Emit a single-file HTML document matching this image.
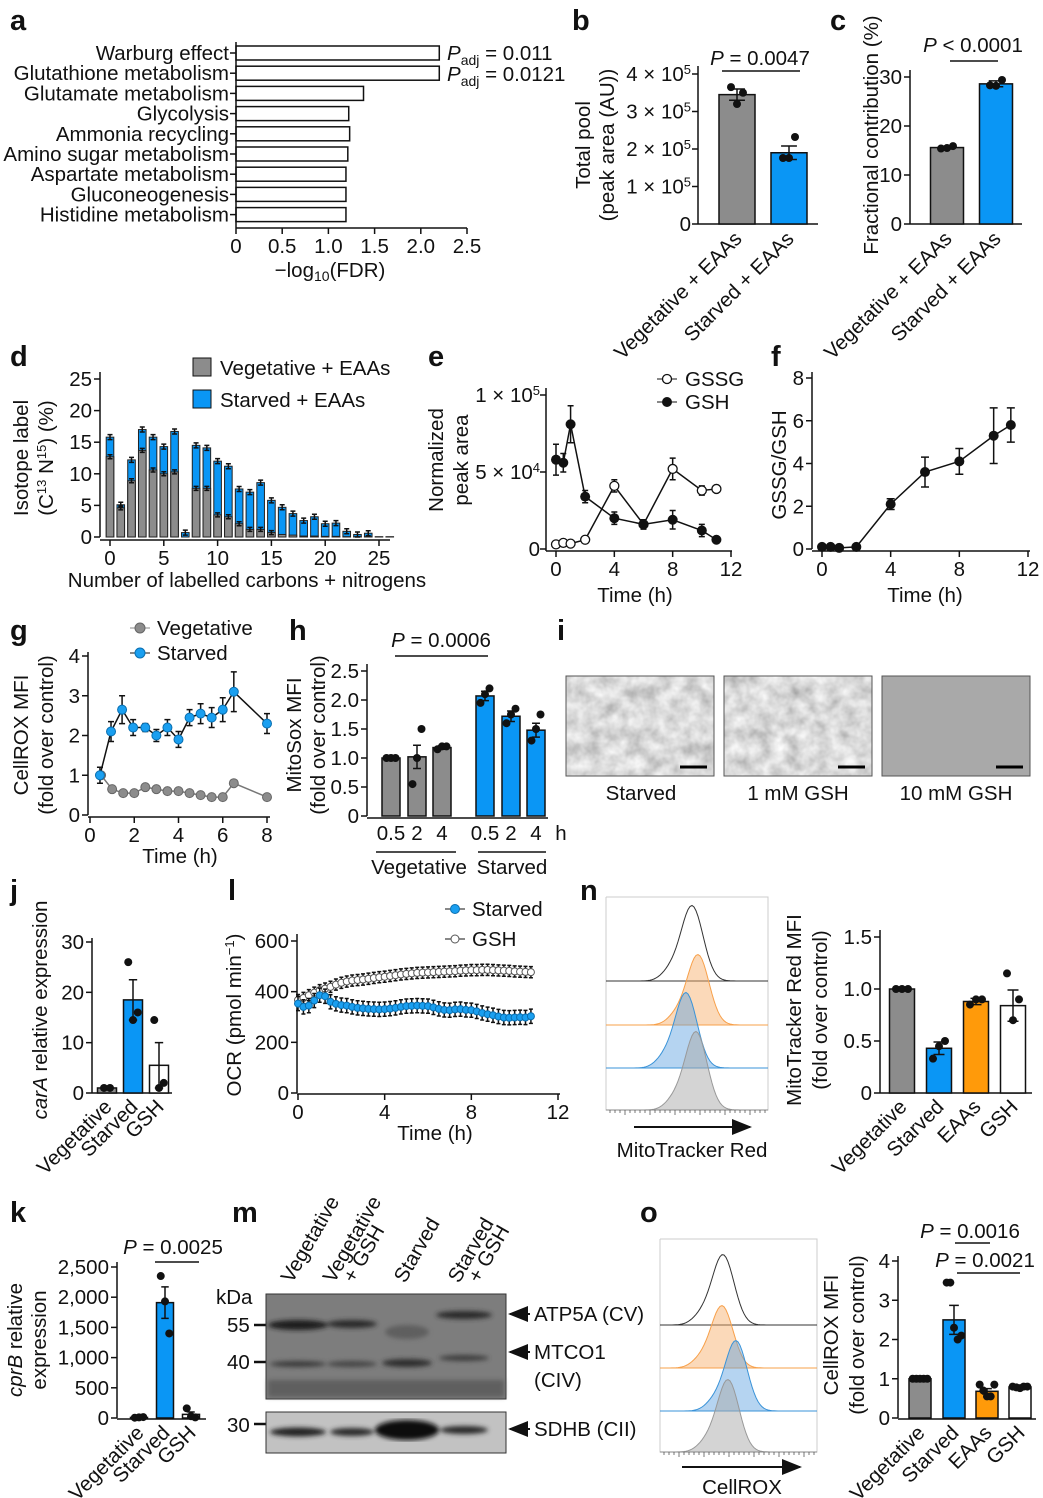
<!DOCTYPE html>
<html><head><meta charset="utf-8"><style>
html,body{margin:0;padding:0;background:#fff}
svg{display:block;font-family:"Liberation Sans",Arial,sans-serif}
text{fill:#111}
.pl{font-size:29px;font-weight:bold}
.t{font-size:20.5px}
</style></head><body>
<svg id="fig" width="1043" height="1498" viewBox="0 0 1043 1498" xmlns="http://www.w3.org/2000/svg">
<defs>
<filter id="noise" x="0" y="0" width="1" height="1"><feTurbulence type="fractalNoise" baseFrequency="0.07" numOctaves="3" seed="4"/><feColorMatrix type="saturate" values="0"/><feComponentTransfer><feFuncR type="linear" slope="0.9" intercept="0.25"/><feFuncG type="linear" slope="0.9" intercept="0.25"/><feFuncB type="linear" slope="0.9" intercept="0.25"/><feFuncA type="linear" slope="0" intercept="1"/></feComponentTransfer></filter>
<filter id="blur1"><feGaussianBlur stdDeviation="2.5"/></filter>
<marker id="arr" markerWidth="10" markerHeight="10" refX="9" refY="5" orient="auto"><path d="M0,1 L10,5 L0,9 z" fill="#111"/></marker>
</defs>
<text class="pl" x="10" y="30">a</text>
<text class="pl" x="572" y="30">b</text>
<text class="pl" x="830" y="30">c</text>
<text class="pl" x="10" y="366">d</text>
<text class="pl" x="428" y="366">e</text>
<text class="pl" x="771" y="366">f</text>
<text class="pl" x="10" y="640">g</text>
<text class="pl" x="289" y="640">h</text>
<text class="pl" x="557" y="640">i</text>
<text class="pl" x="10" y="900">j</text>
<text class="pl" x="228" y="900">l</text>
<text class="pl" x="580" y="900">n</text>
<text class="pl" x="10" y="1222">k</text>
<text class="pl" x="232" y="1222">m</text>
<text class="pl" x="640" y="1222">o</text>

<text class="t" x="330" y="277" text-anchor="middle">−log<tspan font-size="14" dy="4">10</tspan><tspan dy="-4">(FDR)</tspan></text>
<text class="t" x="447" y="60"><tspan font-style="italic">P</tspan><tspan font-size="14" dy="5">adj</tspan><tspan dy="-5"> = 0.011</tspan></text>
<text class="t" x="447" y="81"><tspan font-style="italic">P</tspan><tspan font-size="14" dy="5">adj</tspan><tspan dy="-5"> = 0.0121</tspan></text>

<text class="t" transform="translate(590,145) rotate(-90)" text-anchor="middle">Total pool</text>
<text class="t" transform="translate(614,145) rotate(-90)" text-anchor="middle">(peak area (AU))</text>
<text class="t" x="760" y="65" text-anchor="middle"><tspan font-style="italic">P</tspan> = 0.0047</text>
<line x1="722" y1="71" x2="800" y2="71" stroke="#111" stroke-width="1.5"/>

<text class="t" transform="translate(878,135) rotate(-90)" text-anchor="middle">Fractional contribution (%)</text>
<text class="t" x="973" y="52" text-anchor="middle"><tspan font-style="italic">P</tspan> &lt; 0.0001</text>
<line x1="950" y1="61" x2="998" y2="61" stroke="#111" stroke-width="1.5"/>

<text class="t" transform="translate(28,458) rotate(-90)" text-anchor="middle">Isotope label</text>
<text class="t" transform="translate(53,458) rotate(-90)" text-anchor="middle">(C<tspan font-size="13" dy="-7">13</tspan><tspan dy="7"> N</tspan><tspan font-size="13" dy="-7">15</tspan><tspan dy="7">) (%)</tspan></text>
<text class="t" x="247" y="587" text-anchor="middle">Number of labelled carbons + nitrogens</text>
<rect x="193" y="358" width="18" height="18" fill="#8c8c8c" stroke="#111"/>
<text class="t" x="220" y="375">Vegetative + EAAs</text>
<rect x="193" y="390" width="18" height="18" fill="#0a96f5" stroke="#111"/>
<text class="t" x="220" y="407">Starved + EAAs</text>

<text class="t" transform="translate(443,460) rotate(-90)" text-anchor="middle">Normalized</text>
<text class="t" transform="translate(468,460) rotate(-90)" text-anchor="middle">peak area</text>
<text class="t" x="635" y="602" text-anchor="middle">Time (h)</text>
<line x1="657" y1="379" x2="677" y2="379" stroke="#111"/>
<circle cx="667" cy="379" r="4.5" fill="#fff" stroke="#111" stroke-width="1.3"/>
<text class="t" x="685" y="386">GSSG</text>
<line x1="657" y1="402" x2="677" y2="402" stroke="#111"/>
<circle cx="667" cy="402" r="5" fill="#111"/>
<text class="t" x="685" y="409">GSH</text>

<text class="t" transform="translate(786,465) rotate(-90)" text-anchor="middle">GSSG/GSH</text>
<text class="t" x="925" y="602" text-anchor="middle">Time (h)</text>

<text class="t" transform="translate(28,735) rotate(-90)" text-anchor="middle">CellROX MFI</text>
<text class="t" transform="translate(53,735) rotate(-90)" text-anchor="middle">(fold over control)</text>
<text class="t" x="180" y="863" text-anchor="middle">Time (h)</text>
<line x1="130" y1="628" x2="150" y2="628" stroke="#888"/>
<circle cx="140" cy="628" r="5" fill="#8c8c8c" stroke="#666"/>
<text class="t" x="157" y="635">Vegetative</text>
<line x1="130" y1="653" x2="150" y2="653" stroke="#111"/>
<circle cx="140" cy="653" r="5" fill="#1a9ff0" stroke="#0a6fb0"/>
<text class="t" x="157" y="660">Starved</text>

<text class="t" transform="translate(301,735) rotate(-90)" text-anchor="middle">MitoSox MFI</text>
<text class="t" transform="translate(325,735) rotate(-90)" text-anchor="middle">(fold over control)</text>
<text class="t" x="441" y="647" text-anchor="middle"><tspan font-style="italic">P</tspan> = 0.0006</text>
<line x1="395" y1="656" x2="488" y2="656" stroke="#111" stroke-width="1.5"/>
<text class="t" x="561" y="840" text-anchor="middle">h</text>
<line x1="376" y1="852" x2="456" y2="852" stroke="#111" stroke-width="1.5"/>
<line x1="478" y1="852" x2="546" y2="852" stroke="#111" stroke-width="1.5"/>
<text class="t" x="419" y="874" text-anchor="middle">Vegetative</text>
<text class="t" x="512" y="874" text-anchor="middle">Starved</text>

<rect x="566" y="676" width="148" height="100" fill="#bbb" filter="url(#noise)"/>
<rect x="566" y="676" width="148" height="100" fill="none" stroke="#555"/>
<rect x="724" y="676" width="148" height="100" fill="#bbb" filter="url(#noise)"/>
<rect x="724" y="676" width="148" height="100" fill="none" stroke="#555"/>
<rect x="882" y="676" width="148" height="100" fill="#a9a9a9" stroke="#555"/>
<line x1="680" y1="767" x2="707" y2="767" stroke="#000" stroke-width="3"/>
<line x1="838" y1="767" x2="865" y2="767" stroke="#000" stroke-width="3"/>
<line x1="996" y1="767" x2="1023" y2="767" stroke="#000" stroke-width="3"/>
<text class="t" x="641" y="800" text-anchor="middle">Starved</text>
<text class="t" x="798" y="800" text-anchor="middle">1 mM GSH</text>
<text class="t" x="956" y="800" text-anchor="middle">10 mM GSH</text>

<text class="t" transform="translate(47,1010) rotate(-90)" text-anchor="middle"><tspan font-style="italic">carA</tspan> relative expression</text>
<text class="t" transform="translate(241,1015) rotate(-90)" text-anchor="middle">OCR (pmol min<tspan font-size="13" dy="-7">−1</tspan><tspan dy="7">)</tspan></text>
<text class="t" x="435" y="1140" text-anchor="middle">Time (h)</text>
<line x1="445" y1="909" x2="465" y2="909" stroke="#111"/>
<circle cx="455" cy="909" r="4.5" fill="#1a9ff0" stroke="#0a6fb0"/>
<text class="t" x="472" y="916">Starved</text>
<line x1="445" y1="939" x2="465" y2="939" stroke="#111"/>
<circle cx="455" cy="939" r="4" fill="#fff" stroke="#555"/>
<text class="t" x="472" y="946">GSH</text>

<text class="t" x="692" y="1157" text-anchor="middle">MitoTracker Red</text>
<line x1="634" y1="1127" x2="750" y2="1127" stroke="#111" stroke-width="2" marker-end="url(#arr)"/>
<text class="t" transform="translate(801,1010) rotate(-90)" text-anchor="middle">MitoTracker Red MFI</text>
<text class="t" transform="translate(827,1010) rotate(-90)" text-anchor="middle">(fold over control)</text>

<text class="t" transform="translate(22,1340) rotate(-90)" text-anchor="middle"><tspan font-style="italic">cprB</tspan> relative</text>
<text class="t" transform="translate(46,1340) rotate(-90)" text-anchor="middle">expression</text>
<text class="t" x="173" y="1254" text-anchor="middle"><tspan font-style="italic">P</tspan> = 0.0025</text>
<line x1="155" y1="1262" x2="199" y2="1262" stroke="#111" stroke-width="1.5"/>

<g>
<text class="t" transform="translate(292,1284) rotate(-60)">Vegetative</text>
<text class="t" transform="translate(334,1284) rotate(-60)">Vegetative</text>
<text class="t" transform="translate(354,1284) rotate(-60)">+ GSH</text>
<text class="t" transform="translate(405,1284) rotate(-60)">Starved</text>
<text class="t" transform="translate(459,1284) rotate(-60)">Starved</text>
<text class="t" transform="translate(479,1284) rotate(-60)">+ GSH</text>
<text class="t" x="216" y="1304">kDa</text>
<text class="t" x="227" y="1332">55</text>
<text class="t" x="227" y="1369">40</text>
<text class="t" x="227" y="1432">30</text>
<line x1="254" y1="1325" x2="266" y2="1325" stroke="#111" stroke-width="2.5"/>
<line x1="254" y1="1362" x2="266" y2="1362" stroke="#111" stroke-width="2.5"/>
<line x1="254" y1="1424" x2="266" y2="1424" stroke="#111" stroke-width="2.5"/>
<rect x="266" y="1294" width="240" height="105" fill="#7d7d7d" stroke="#333"/>
<g filter="url(#blur1)">
<ellipse cx="298" cy="1325" rx="30" ry="5" fill="#1e1e1e"/>
<ellipse cx="352" cy="1324" rx="25" ry="4" fill="#2a2a2a"/>
<ellipse cx="464" cy="1315" rx="28" ry="4" fill="#2a2a2a"/>
<ellipse cx="407" cy="1332" rx="22" ry="7" fill="#5e5e5e"/>
<ellipse cx="298" cy="1364" rx="28" ry="3" fill="#3a3a3a"/>
<ellipse cx="352" cy="1364" rx="25" ry="3" fill="#454545"/>
<ellipse cx="407" cy="1363" rx="25" ry="4" fill="#2e2e2e"/>
<ellipse cx="464" cy="1358" rx="25" ry="3" fill="#3e3e3e"/>
<rect x="268" y="1380" width="236" height="17" fill="#5e5e5e"/>
</g>
<rect x="266" y="1412" width="240" height="41" fill="#c2c2c2" stroke="#333"/>
<g filter="url(#blur1)">
<ellipse cx="298" cy="1432" rx="28" ry="4.5" fill="#222"/>
<ellipse cx="352" cy="1432" rx="22" ry="4" fill="#2a2a2a"/>
<ellipse cx="407" cy="1430" rx="32" ry="10" fill="#111"/>
<ellipse cx="464" cy="1430" rx="24" ry="4" fill="#2a2a2a"/>
</g>
<line x1="530" y1="1314" x2="510" y2="1314" stroke="#111" stroke-width="2" marker-end="url(#arr)"/>
<text class="t" x="534" y="1321">ATP5A (CV)</text>
<line x1="530" y1="1352" x2="510" y2="1352" stroke="#111" stroke-width="2" marker-end="url(#arr)"/>
<text class="t" x="534" y="1359">MTCO1</text>
<text class="t" x="534" y="1387">(CIV)</text>
<line x1="530" y1="1429" x2="510" y2="1429" stroke="#111" stroke-width="2" marker-end="url(#arr)"/>
<text class="t" x="534" y="1436">SDHB (CII)</text>
</g>

<text class="t" x="742" y="1494" text-anchor="middle">CellROX</text>
<line x1="682" y1="1467" x2="800" y2="1467" stroke="#111" stroke-width="2" marker-end="url(#arr)"/>
<text class="t" transform="translate(838,1335) rotate(-90)" text-anchor="middle">CellROX MFI</text>
<text class="t" transform="translate(864,1335) rotate(-90)" text-anchor="middle">(fold over control)</text>
<text class="t" x="970" y="1238" text-anchor="middle"><tspan font-style="italic">P</tspan> = 0.0016</text>
<line x1="955" y1="1243" x2="990" y2="1243" stroke="#111" stroke-width="1.5"/>
<text class="t" x="985" y="1267" text-anchor="middle"><tspan font-style="italic">P</tspan> = 0.0021</text>
<line x1="957" y1="1273" x2="1020" y2="1273" stroke="#111" stroke-width="1.5"/>
</svg>
<script>
const aCategories=["Warburg effect","Glutathione metabolism","Glutamate metabolism","Glycolysis","Ammonia recycling","Amino sugar metabolism","Aspartate metabolism","Gluconeogenesis","Histidine metabolism"];
const aValues=[2.2,2.2,1.38,1.22,1.23,1.21,1.19,1.19,1.19];
const aTicks=[0,0.5,1.0,1.5,2.0,2.5];
const aTickLabels=["0","0.5","1.0","1.5","2.0","2.5"];

const bGroups=["Vegetative + EAAs","Starved + EAAs"];
const bMeans=[3.45,1.9];
const bErr=[0.15,0.18];
const bReps=[[3.65,3.2,3.5],[1.76,1.76,2.32]];
const bTicks=[0,1,2,3,4];

const cMeans=[15.6,28.6];
const cErr=[0.3,0.6];
const cReps=[[15.4,15.5,15.9],[28.3,28.2,29.4]];
const cTicks=[0,10,20,30];

const dCarbons=[0,1,2,3,4,5,6,7,8,9,10,11,12,13,14,15,16,17,18,19,20,21,22,23,24,25,26];
const dVeg=[12.7,4.6,8.9,13.7,10.6,10.0,10.3,0,7.7,7.7,3.5,3.2,2.1,1.2,1.2,0.7,0.4,0.3,0.15,0.15,0.1,0.1,0.05,0.05,0.05,0,0];
const dStarvedTotal=[15.8,5.1,12.2,17.0,15.8,14.3,16.7,0.7,14.5,14.1,12.0,11.2,7.6,7.1,8.6,5.8,4.7,3.7,2.6,3.2,2.1,2.2,0.9,0.4,0.6,0.05,0.05];
const dTicksY=[0,5,10,15,20,25];
const dTicksX=[0,5,10,15,20,25];

const eTime=[0,0.5,1,2,4,6,8,10,11];
const eGSH=[58,56,81,34,20,16,19,12,6];
const eGSHerr=[10,6,12,4,4,3,6,4,1];
const eGSSG=[3,4,3.5,6,41,16,52,38,39];
const eGSSGerr=[1,1,1,1,4,3,7,3,2];

const fTime=[0,0.5,1,2,4,6,8,10,11];
const fRatio=[0.1,0.1,0.05,0.1,2.1,3.6,4.1,5.3,5.8];
const fErr=[0.05,0.05,0.05,0.05,0.25,0.7,0.6,1.3,0.8];
const fTicksY=[0,2,4,6,8];
const fTicksX=[0,4,8,12];

const gTimeS=[0.45,0.95,1.45,1.95,2.5,3.0,3.5,4.0,4.5,5.0,5.5,6.0,6.5,8];
const gStarved=[1.0,2.1,2.65,2.2,2.2,2.0,2.2,1.9,2.45,2.55,2.45,2.65,3.1,2.3];
const gStarvedErr=[0.2,0.25,0.35,0.2,0.1,0.15,0.2,0.2,0.2,0.25,0.25,0.3,0.5,0.25];
const gTimeV=[0.5,1,1.5,2,2.5,3,3.5,4,4.5,5,5.5,6,6.5,8];
const gVeg=[1.0,0.65,0.55,0.55,0.7,0.65,0.6,0.6,0.55,0.5,0.45,0.45,0.8,0.45];
const gTicksY=[0,1,2,3,4];
const gTicksX=[0,2,4,6,8];

const hLabels=["0.5","2","4","0.5","2","4"];
const hMeans=[1.0,1.02,1.18,2.07,1.72,1.48];
const hErr=[0.02,0.2,0.03,0.08,0.09,0.12];
const hReps=[[1,1,1],[0.55,1.0,1.5],[1.15,1.2,1.2],[1.95,2.1,2.2],[1.6,1.75,1.85],[1.3,1.5,1.75]];
const hTicks=[0,0.5,1.0,1.5,2.0,2.5];

const jGroups=["Vegetative","Starved","GSH"];
const jMeans=[1,18.5,5.5];
const jErr=[0,4,4.5];
const jReps=[[1,1],[26,14.5,16],[14.5,1,2]];
const jTicks=[0,10,20,30];

const lTime=[0,0.25,0.5,0.75,1,1.25,1.5,1.75,2,2.25,2.5,2.75,3,3.25,3.5,3.75,4,4.25,4.5,4.75,5,5.25,5.5,5.75,6,6.25,6.5,6.75,7,7.25,7.5,7.75,8,8.25,8.5,8.75,9,9.25,9.5,9.75,10,10.25,10.5,10.75];
const lStarved=[353,340,345,365,386,382,360,352,347,345,340,336,334,332,331,330,331,333,336,340,343,344,345,344,343,338,332,328,327,330,331,328,327,322,316,311,307,302,298,297,298,299,298,303];
const lGSH=[367,375,386,396,406,412,419,428,435,440,444,446,448,451,454,457,459,462,465,468,470,472,474,475,476,477,478,479,480,481,483,484,485,485,486,486,485,484,483,482,480,479,478,477];
const lTicksY=[0,200,400,600];
const lTicksX=[0,4,8,12];

const nGroups=["Vegetative","Starved","EAAs","GSH"];
const nMeans=[1.0,0.43,0.88,0.84];
const nErr=[0.005,0.06,0.03,0.15];
const nReps=[[1,1,1],[0.33,0.45,0.5],[0.85,0.9,0.9],[1.15,0.7,0.9]];
const nTicks=[0,0.5,1.0,1.5];
const nPeaks=[692,698,686,696];
const nPeakHeights=[75,70,75,78];

const kGroups=["Vegetative","Starved","GSH"];
const kMeans=[10,1910,60];
const kErr=[3,260,40];
const kReps=[[5,10,15],[2350,1930,1400],[160,30,10]];
const kTicks=[0,500,1000,1500,2000,2500];
const kTickLabels=["0","500","1,000","1,500","2,000","2,500"];

const oGroups=["Vegetative","Starved","EAAs","GSH"];
const oMeans=[1.0,2.5,0.68,0.79];
const oErr=[0.01,0.37,0.07,0.02];
const oReps=[[1,1,1,1,1],[3.45,3.45,2.3,2.0,2.1],[0.85,0.7,0.55,0.55,0.85],[0.8,0.78,0.76,0.8,0.8]];
const oTicks=[0,1,2,3,4];
const oPeaks=[723,722,736,728];
const oPeakHeights=[70,62,70,72];

const FS=20.5;
const SVGNS="http://www.w3.org/2000/svg";
const svg=document.getElementById('fig');
function el(tag,attrs,parent){const e=document.createElementNS(SVGNS,tag);for(const k in attrs)e.setAttribute(k,attrs[k]);(parent||svg).appendChild(e);return e;}
function lin(d0,d1,r0,r1){return v=>r0+(v-d0)*(r1-r0)/(d1-d0);}
function txt(x,y,s,anchor,parent,size){const t=el('text',{x:x,y:y,'text-anchor':anchor||'start','font-size':size||FS},parent);t.textContent=s;return t;}
function yAxis(p,x,ys,ticks,labels,top){
  const ax=el('line',{x1:x,y1:ys(ticks[0]),x2:x,y2:top!==undefined?top:ys(ticks[ticks.length-1]),stroke:'#111','stroke-width':1.5});
  
  
  ticks.forEach((v,i)=>{
    const tk=el('line',{x1:x-6,y1:ys(v),x2:x,y2:ys(v),stroke:'#111','stroke-width':1.5});
    
    
    const lb=txt(x-8,ys(v)+7,labels?labels[i]:String(v),'end');
    
    
  });
}
function xAxis(p,y,xs,ticks,labels,x0,x1){
  const ax=el('line',{x1:x0,y1:y,x2:x1,y2:y,stroke:'#111','stroke-width':1.5});
  
  
  ticks.forEach((v,i)=>{
    const tk=el('line',{x1:xs(v),y1:y,x2:xs(v),y2:y+6,stroke:'#111','stroke-width':1.5});
    
    
    const lb=txt(xs(v),y+25,labels?labels[i]:String(v),'middle');
    
    
  });
}
function errBar(p,x,yTop,yBot,w){
  const e=el('path',{d:`M${x},${yTop}V${yBot}M${x-w},${yTop}H${x+w}M${x-w},${yBot}H${x+w}`,stroke:'#111','stroke-width':1.5,fill:'none'});
  
  
}
function barChart(p,centers,width,ys,means,errs,reps,colors,labels,labelY,rot){
  means.forEach((m,i)=>{
    const r=el('rect',{x:centers[i]-width/2,y:ys(m),width:width,height:ys(0)-ys(m),fill:colors[i],stroke:'#111','stroke-width':1.5});
    
    
    errBar(p,centers[i],ys(m+errs[i]),ys(m-errs[i]),width*0.22);
    const rs=reps[i];
    rs.forEach((v,j)=>{
      const off=rs.length>1?(j-(rs.length-1)/2)*Math.min(6,width/(rs.length+1)):0;
      const d=el('circle',{cx:centers[i]+off,cy:ys(v),r:4,fill:'#111'});
      
      
    });
    if(labels){
      const t=el('text',{transform:`translate(${centers[i]+6},${labelY}) rotate(${rot||-45})`,'text-anchor':'end','font-size':FS});
      t.textContent=labels[i];
      
      
    }
  });
}

(function(){
  const xs=lin(0,2.5,236,467);
  const rowY=i=>53+i*20.2;
  aCategories.forEach((c,i)=>{
    const r=el('rect',{x:236,y:rowY(i)-7,width:xs(aValues[i])-236,height:14,fill:'#fff',stroke:'#111','stroke-width':1.5});
    
    
    const tk=el('line',{x1:230,y1:rowY(i),x2:236,y2:rowY(i),stroke:'#111','stroke-width':1.5});
    
    
    const t=txt(229,rowY(i)+7,c,'end');
    
    
  });
  const ya=el('line',{x1:236,y1:42,x2:236,y2:228,stroke:'#111','stroke-width':1.5});
  
  
  xAxis('a',228,xs,aTicks,aTickLabels,236,467);
})();

(function(){
  const ys=lin(0,4,224,74);
  const ax=el('line',{x1:698,y1:224,x2:698,y2:66,stroke:'#111','stroke-width':1.5});
  
  
  bTicks.forEach(v=>{
    const tk=el('line',{x1:692,y1:ys(v),x2:698,y2:ys(v),stroke:'#111','stroke-width':1.5});
    
    
    const t=el('text',{x:691,y:ys(v)+7,'text-anchor':'end','font-size':FS});
    if(v===0){t.textContent='0';}else{t.innerHTML=v+' × 10<tspan font-size="13" dy="-7">5</tspan>';}
    
    
  });
  const xa=el('line',{x1:698,y1:224,x2:818,y2:224,stroke:'#111','stroke-width':1.5});
  
  
  barChart('b',[737,789],36,ys,bMeans,bErr,bReps,['#8c8c8c','#0a96f5'],bGroups,240,-45);
})();

(function(){
  const ys=lin(0,30,224,77);
  yAxis('c',910,ys,cTicks,null,70);
  const xa=el('line',{x1:910,y1:224,x2:1022,y2:224,stroke:'#111','stroke-width':1.5});
  
  
  barChart('c',[947,996],33,ys,cMeans,cErr,cReps,['#8c8c8c','#0a96f5'],bGroups,240,-45);
})();

(function(){
  const ys=lin(0,25,537,379);
  const xs=lin(0,25,110,379);
  yAxis('d',100,ys,dTicksY,null,372);
  xAxis('d',540,xs,dTicksX,null,100,390);
  dCarbons.forEach((c,i)=>{
    const tot=dStarvedTotal[i], g=dVeg[i];
    const b=el('rect',{x:xs(c)-3.8,y:ys(tot),width:7.6,height:Math.max(0,ys(0)-ys(tot)),fill:'#0a96f5',stroke:'#222','stroke-width':1});
    
    
    if(g>0){
      const gr=el('rect',{x:xs(c)-3.8,y:ys(g),width:7.6,height:ys(0)-ys(g),fill:'#8c8c8c',stroke:'#222','stroke-width':1});
      
      
      if(g>0.5) errBar('d',xs(c),ys(g)-2,ys(g)+2,2.5);
    }
    if(tot>0.3) errBar('d',xs(c),ys(tot)-2.5,ys(tot)+2.5,2.5);
  });
})();

(function(){
  const ys=lin(0,100,549,395);
  const xs=lin(0,12,556,731);
  const ax=el('line',{x1:546,y1:551,x2:546,y2:388,stroke:'#111','stroke-width':1.5});
  
  
  [[0,'0'],[50,'5 × 10<tspan font-size="13" dy="-7">4</tspan>'],[100,'1 × 10<tspan font-size="13" dy="-7">5</tspan>']].forEach(a=>{
    const tk=el('line',{x1:540,y1:ys(a[0]),x2:546,y2:ys(a[0]),stroke:'#111','stroke-width':1.5});
    
    
    const t=el('text',{x:540,y:ys(a[0])+7,'text-anchor':'end','font-size':FS});
    t.innerHTML=a[1];
    
    
  });
  xAxis('e',551,xs,fTicksX,null,546,732);
  const p1=el('polyline',{points:eTime.map((t,i)=>xs(t)+','+ys(eGSSG[i])).join(' '),fill:'none',stroke:'#111','stroke-width':1.5});
  
  
  const p2=el('polyline',{points:eTime.map((t,i)=>xs(t)+','+ys(eGSH[i])).join(' '),fill:'none',stroke:'#111','stroke-width':1.5});
  
  
  eTime.forEach((t,i)=>{
    errBar('e',xs(t),ys(eGSSG[i]+eGSSGerr[i]),ys(eGSSG[i]-eGSSGerr[i]),3);
    errBar('e',xs(t),ys(eGSH[i]+eGSHerr[i]),ys(eGSH[i]-eGSHerr[i]),3);
    const a=el('circle',{cx:xs(t),cy:ys(eGSSG[i]),r:4.5,fill:'#fff',stroke:'#111','stroke-width':1.3});
    
    
    const b=el('circle',{cx:xs(t),cy:ys(eGSH[i]),r:5,fill:'#111'});
    
    
  });
})();

(function(){
  const ys=lin(0,8,549,378);
  const xs=lin(0,12,822,1028);
  yAxis('f',812,ys,fTicksY,null,372);
  xAxis('f',551,xs,fTicksX,null,812,1030);
  const p=el('polyline',{points:fTime.map((t,i)=>xs(t)+','+ys(fRatio[i])).join(' '),fill:'none',stroke:'#111','stroke-width':1.5});
  
  
  fTime.forEach((t,i)=>{
    errBar('f',xs(t),ys(fRatio[i]+fErr[i]),ys(fRatio[i]-fErr[i]),4);
    const c=el('circle',{cx:xs(t),cy:ys(fRatio[i]),r:5,fill:'#111'});
    
    
  });
})();

(function(){
  const ys=lin(0,4,815,656);
  const xs=lin(0,8,90,267);
  yAxis('g',88,ys,gTicksY,null,652);
  xAxis('g',817,xs,gTicksX,null,88,270);
  const pv=el('polyline',{points:gTimeV.map((t,i)=>xs(t)+','+ys(gVeg[i])).join(' '),fill:'none',stroke:'#777','stroke-width':1.5});
  
  
  gTimeV.forEach((t,i)=>{
    const c=el('circle',{cx:xs(t),cy:ys(gVeg[i]),r:4.5,fill:'#8c8c8c',stroke:'#666'});
    
    
  });
  const ps=el('polyline',{points:gTimeS.map((t,i)=>xs(t)+','+ys(gStarved[i])).join(' '),fill:'none',stroke:'#111','stroke-width':1.5});
  
  
  gTimeS.forEach((t,i)=>{
    errBar('g',xs(t),ys(gStarved[i]+gStarvedErr[i]),ys(gStarved[i]-gStarvedErr[i]),3);
    const c=el('circle',{cx:xs(t),cy:ys(gStarved[i]),r:4.5,fill:'#1a9ff0',stroke:'#0a6fb0'});
    
    
  });
})();

(function(){
  const ys=lin(0,2.5,816,671);
  yAxis('h',367,ys,hTicks,['0','0.5','1.0','1.5','2.0','2.5'],664);
  const xa=el('line',{x1:367,y1:818,x2:548,y2:818,stroke:'#111','stroke-width':1.5});
  
  
  const cx=[391,417,442,485,511,536];
  barChart('h',cx,18,ys,hMeans,hErr,hReps,['#8c8c8c','#8c8c8c','#8c8c8c','#0a96f5','#0a96f5','#0a96f5']);
  hLabels.forEach((l,i)=>{
    const t=txt(cx[i],840,l,'middle');
    
    
  });
})();

(function(){
  const ys=lin(0,30,1093,942);
  yAxis('j',92,ys,jTicks,null,938);
  const xa=el('line',{x1:92,y1:1093,x2:172,y2:1093,stroke:'#111','stroke-width':1.5});
  
  
  barChart('j',[107,133,159],19,ys,jMeans,jErr,jReps,['#8c8c8c','#0a96f5','#fff'],jGroups,1108,-45);
})();

(function(){
  const ys=lin(0,600,1093,941);
  const xs=lin(0,12,298,558);
  yAxis('l',297,ys,lTicksY,null,934);
  xAxis('l',1094,xs,lTicksX,null,297,560);
  const series=[[lGSH,'#fff','#555','gsh',22],[lStarved,'#1a9ff0','#0a6fb0','starved',28]];
  series.forEach(s=>{
    const pl=el('polyline',{points:lTime.map((t,i)=>xs(t)+','+ys(s[0][i])).join(' '),fill:'none',stroke:'#111','stroke-width':1});
    
    
    lTime.forEach((t,i)=>{
      errBar('l',xs(t),ys(s[0][i]+s[4]),ys(s[0][i]-s[4]),2);
    });
    lTime.forEach((t,i)=>{
      const c=el('circle',{cx:xs(t),cy:ys(s[0][i]),r:3.5,fill:s[1],stroke:s[2],'stroke-width':1});
      
      
    });
  });
})();

function histo(p,x0,x1,top,baselines,peaks,heights,colors,fills){
  const fr=el('path',{d:`M${x0},${top}V${baselines[3]}H${x1}V${top}H${x0}`,fill:'none',stroke:'#ccc','stroke-width':1});
  
  
  baselines.forEach((b,i)=>{
    const sep=el('line',{x1:x0,y1:b,x2:x1,y2:b,stroke:'#ccc','stroke-width':1});
    
    
    let d=`M${x0},${b}`;
    for(let x=x0;x<=x1;x+=2){
      const u=(x-peaks[i])/11;
      const y=b-heights[i]*(Math.exp(-u*u/2)+0.12*Math.exp(-Math.pow((x-peaks[i]+22)/9,2)/2));
      d+=`L${x},${y.toFixed(1)}`;
    }
    d+=`L${x1},${b}Z`;
    const h=el('path',{d:d,fill:fills[i],stroke:colors[i],'stroke-width':1});
    
    
  });
  const ax=el('line',{x1:x0,y1:baselines[3],x2:x1,y2:baselines[3],stroke:'#888','stroke-width':1});
  
  
  for(let x=x0+4;x<x1;x+=5){
    const tk=el('line',{x1:x,y1:baselines[3],x2:x,y2:baselines[3]+(x%25<5?5:3),stroke:'#555','stroke-width':0.8});
    
    
  }
}
const histColors=['#333','#f7a04a','#3a93d8','#999'];
const histFills=['none','rgba(247,170,100,0.45)','rgba(90,160,225,0.45)','rgba(170,170,170,0.5)'];

(function(){
  histo('n',606,768,897,[981,1025,1068,1110],nPeaks,nPeakHeights,histColors,histFills);
  const ys=lin(0,1.5,1093,937);
  yAxis('n',880,ys,nTicks,['0','0.5','1.0','1.5'],930);
  const xa=el('line',{x1:880,y1:1093,x2:1032,y2:1093,stroke:'#111','stroke-width':1.5});
  
  
  barChart('n',[902,939,976,1013],25,ys,nMeans,nErr,nReps,['#8c8c8c','#0a96f5','#ff9a0a','#fff'],nGroups,1108,-45);
})();

(function(){
  const ys=lin(0,2500,1418,1267);
  yAxis('k',117,ys,kTicks,kTickLabels,1262);
  const xa=el('line',{x1:117,y1:1419,x2:206,y2:1419,stroke:'#111','stroke-width':1.5});
  
  
  barChart('k',[139,165,191],17,ys,kMeans,kErr,kReps,['#8c8c8c','#0a96f5','#fff'],kGroups,1434,-45);
})();

(function(){
  histo('o',660,817,1239,[1325,1368,1411,1452],oPeaks,oPeakHeights,histColors,histFills);
  const ys=lin(0,4,1418,1261);
  yAxis('o',898,ys,oTicks,null,1256);
  const xa=el('line',{x1:898,y1:1419,x2:1036,y2:1419,stroke:'#111','stroke-width':1.5});
  
  
  barChart('o',[920,954,987,1020],22,ys,oMeans,oErr,oReps,['#8c8c8c','#0a96f5','#ff9a0a','#fff'],oGroups,1434,-45);
})();
</script>
</body></html>
